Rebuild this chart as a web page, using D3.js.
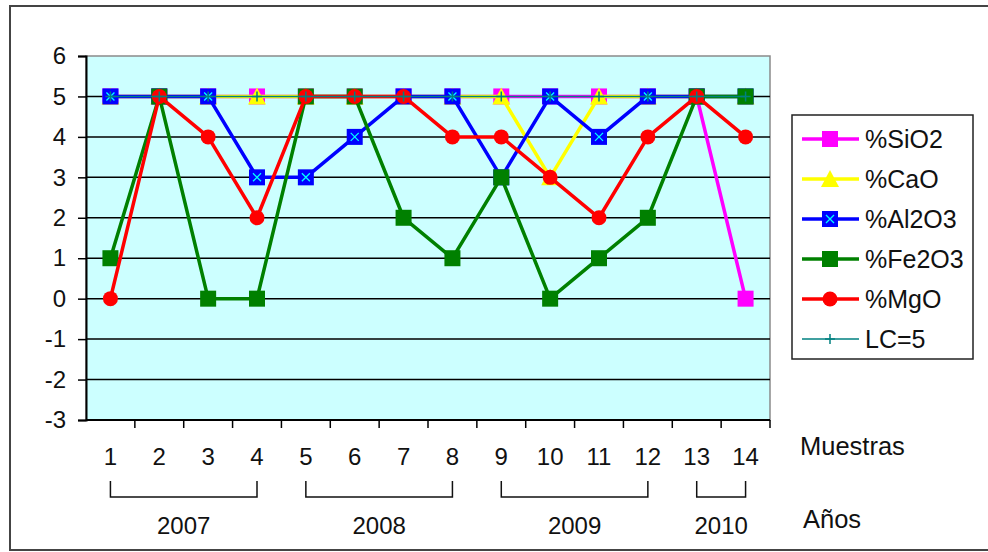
<!DOCTYPE html>
<html>
<head>
<meta charset="utf-8">
<script src="https://cdn.jsdelivr.net/npm/d3@7"></script>
<style>
  body { margin: 0; background: #fff; }
  svg { display: block; font-family: "Liberation Sans", Arial, sans-serif; }
</style>
</head>
<body>
<div id="chart"></div>
<script>
// samples (x axis)
const muestras = [1, 2, 3, 4, 5, 6, 7, 8, 9, 10, 11, 12, 13, 14];

// series values
const sio2  = [5, 5, 5, 5, 5, 5, 5, 5, 5, 5, 5, 5, 5, 0];
const cao   = [5, 5, 5, 5, 5, 5, 5, 5, 5, 3, 5, 5, 5, 5];
const al2o3 = [5, 5, 5, 3, 3, 4, 5, 5, 3, 5, 4, 5, 5, 5];
const fe2o3 = [1, 5, 0, 0, 5, 5, 2, 1, 3, 0, 1, 2, 5, 5];
const mgo   = [0, 5, 4, 2, 5, 5, 5, 4, 4, 3, 2, 4, 5, 4];
const lc    = [5, 5, 5, 5, 5, 5, 5, 5, 5, 5, 5, 5, 5, 5];

const yTicks = [-3, -2, -1, 0, 1, 2, 3, 4, 5, 6];

// year groups: label, first sample, last sample
const years = [
  { label: "2007", from: 1, to: 4 },
  { label: "2008", from: 5, to: 8 },
  { label: "2009", from: 9, to: 12 },
  { label: "2010", from: 13, to: 14 },
];

const series = [
  { name: "%SiO2", values: sio2, color: "#FF00FF", marker: "square" },
  { name: "%CaO", values: cao, color: "#FFFF00", marker: "triangle" },
  { name: "%Al2O3", values: al2o3, color: "#0000FF", marker: "xsquare" },
  { name: "%Fe2O3", values: fe2o3, color: "#008000", marker: "square" },
  { name: "%MgO", values: mgo, color: "#FF0000", marker: "circle" },
  { name: "LC=5", values: lc, color: "#008080", marker: "plus", thin: true },
];

const W = 988, H = 552;
const PLOT = { left: 86, right: 770, top: 56, bottom: 420 };

const svg = d3.select("#chart").append("svg")
  .attr("width", W).attr("height", H);

// outer frame
svg.append("rect")
  .attr("x", 10).attr("y", 6)
  .attr("width", 1000).attr("height", 544)
  .attr("fill", "#fff")
  .attr("stroke", "#444").attr("stroke-width", 2);

const x = d3.scaleBand().domain(muestras).range([PLOT.left, PLOT.right]).padding(0);
const y = d3.scaleLinear().domain([-3, 6]).range([PLOT.bottom, PLOT.top]);
const cx = (i) => x(muestras[i]) + x.bandwidth() / 2;

// plot background
svg.append("rect")
  .attr("x", PLOT.left).attr("y", PLOT.top)
  .attr("width", PLOT.right - PLOT.left).attr("height", PLOT.bottom - PLOT.top)
  .attr("fill", "#CCFFFF")
  .attr("stroke", "#8a8a8a").attr("stroke-width", 1.5);

// gridlines
svg.append("g")
  .selectAll("line")
  .data(yTicks.filter((d) => d > -3 && d < 6))
  .join("line")
  .attr("x1", PLOT.left).attr("x2", PLOT.right)
  .attr("y1", (d) => y(d)).attr("y2", (d) => y(d))
  .attr("stroke", "#000").attr("stroke-width", 1.5);

// y axis
const yAxis = svg.append("g")
  .attr("transform", `translate(${PLOT.left},0)`)
  .call(d3.axisLeft(y).tickValues(yTicks).tickSize(8).tickPadding(12).tickFormat((d) => String(d)));
yAxis.select(".domain").attr("stroke", "#000").attr("stroke-width", 2);
yAxis.selectAll(".tick line").attr("stroke", "#000").attr("stroke-width", 1.5);
yAxis.selectAll("text").attr("font-size", 24).attr("fill", "#111").attr("font-family", "Liberation Sans, Arial, sans-serif");

// x axis (ticks between categories)
const xb = svg.append("g").attr("transform", `translate(0,${PLOT.bottom})`);
xb.append("line")
  .attr("x1", PLOT.left).attr("x2", PLOT.right)
  .attr("stroke", "#000").attr("stroke-width", 2);
xb.selectAll("line.tk")
  .data(muestras)
  .join("line")
  .attr("class", "tk")
  .attr("x1", (d) => x(d) + x.bandwidth()).attr("x2", (d) => x(d) + x.bandwidth())
  .attr("y1", 0).attr("y2", 8)
  .attr("stroke", "#000").attr("stroke-width", 1.5);
xb.selectAll("text")
  .data(muestras)
  .join("text")
  .attr("x", (d) => x(d) + x.bandwidth() / 2)
  .attr("y", 45)
  .attr("text-anchor", "middle")
  .attr("font-size", 24)
  .attr("fill", "#111")
  .text((d) => d);

svg.append("text")
  .attr("x", 800).attr("y", 455)
  .attr("font-size", 25.5).attr("fill", "#111")
  .text("Muestras");
svg.append("text")
  .attr("x", 803).attr("y", 528)
  .attr("font-size", 25.5).attr("fill", "#111")
  .text("Años");

// year brackets
const yr = svg.append("g");
years.forEach((g) => {
  const x1 = x(g.from) + x.bandwidth() / 2;
  const x2 = x(g.to) + x.bandwidth() / 2;
  yr.append("path")
    .attr("d", `M${x1},481V497H${x2}V481`)
    .attr("fill", "none").attr("stroke", "#111").attr("stroke-width", 1.5);
  yr.append("text")
    .attr("x", (x1 + x2) / 2).attr("y", 534)
    .attr("text-anchor", "middle")
    .attr("font-size", 24).attr("fill", "#111")
    .text(g.label);
});

// marker drawing
function drawMarker(g, type, color, px, py) {
  if (type === "square") {
    g.append("rect")
      .attr("x", px - 8).attr("y", py - 8).attr("width", 16).attr("height", 16)
      .attr("fill", color);
  } else if (type === "xsquare") {
    g.append("rect")
      .attr("x", px - 8).attr("y", py - 8).attr("width", 16).attr("height", 16)
      .attr("fill", color);
    g.append("path")
      .attr("d", `M${px - 4},${py - 4}L${px + 4},${py + 4}M${px + 4},${py - 4}L${px - 4},${py + 4}`)
      .attr("stroke", "#00FFFF").attr("stroke-width", 1.3);
  } else if (type === "triangle") {
    g.append("path")
      .attr("d", `M${px},${py - 9}L${px + 9},${py + 8}L${px - 9},${py + 8}Z`)
      .attr("fill", color);
  } else if (type === "circle") {
    g.append("circle")
      .attr("cx", px).attr("cy", py).attr("r", 7.5)
      .attr("fill", color);
  } else if (type === "plus") {
    g.append("path")
      .attr("d", `M${px - 5},${py}H${px + 5}M${px},${py - 5}V${py + 5}`)
      .attr("stroke", color).attr("stroke-width", 1.5);
  }
}

const line = d3.line()
  .x((d, i) => cx(i))
  .y((d) => y(d));

series.forEach((s) => {
  const g = svg.append("g").attr("class", "series");
  g.append("path")
    .attr("d", line(s.values))
    .attr("fill", "none")
    .attr("stroke", s.color)
    .attr("stroke-width", s.thin ? 1.5 : 3.5)
    .attr("stroke-linejoin", "round");
  s.values.forEach((v, i) => drawMarker(g, s.marker, s.color, cx(i), y(v)));
});

// legend
const legend = svg.append("g");
legend.append("rect")
  .attr("x", 792).attr("y", 115)
  .attr("width", 181).attr("height", 244)
  .attr("fill", "#fff").attr("stroke", "#222").attr("stroke-width", 1.5);

series.forEach((s, i) => {
  const ly = 139 + i * 40;
  const item = legend.append("g");
  item.append("line")
    .attr("x1", 802).attr("x2", 859)
    .attr("y1", ly).attr("y2", ly)
    .attr("stroke", s.color).attr("stroke-width", s.thin ? 1.5 : 3.5);
  drawMarker(item, s.marker, s.color, 830, ly);
  item.append("text")
    .attr("x", 865).attr("y", ly + 9)
    .attr("font-size", 25).attr("fill", "#111")
    .text(s.name);
});
</script>
</body>
</html>
